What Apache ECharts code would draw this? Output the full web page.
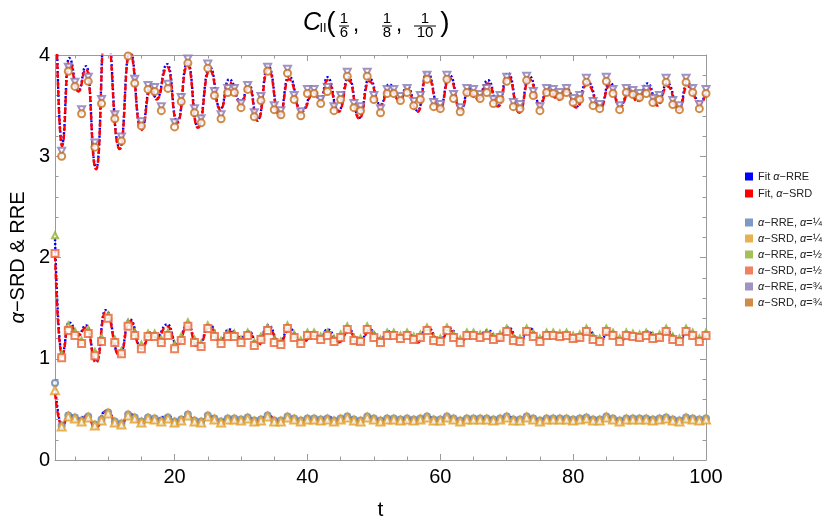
<!DOCTYPE html>
<html>
<head>
<meta charset="utf-8">
<script src="https://cdn.jsdelivr.net/npm/echarts@6/dist/echarts.min.js"></script>
<style>
  html, body { margin: 0; padding: 0; background: #fff; }
  #chart { width: 830px; height: 526px; }
</style>
</head>
<body>
<div id="chart"></div>
<script>
// sample times of the markers
const tSteps = [
  2, 3, 4, 5, 6, 7, 8, 9, 10, 11,
  12, 13, 14, 15, 16, 17, 18, 19, 20, 21,
  22, 23, 24, 25, 26, 27, 28, 29, 30, 31,
  32, 33, 34, 35, 36, 37, 38, 39, 40, 41,
  42, 43, 44, 45, 46, 47, 48, 49, 50, 51,
  52, 53, 54, 55, 56, 57, 58, 59, 60, 61,
  62, 63, 64, 65, 66, 67, 68, 69, 70, 71,
  72, 73, 74, 75, 76, 77, 78, 79, 80, 81,
  82, 83, 84, 85, 86, 87, 88, 89, 90, 91,
  92, 93, 94, 95, 96, 97, 98, 99, 100
]

// alpha = 1/4
const rreQuarter = [
  0.76, 0.34, 0.44, 0.42, 0.39, 0.43, 0.35, 0.40, 0.47, 0.38,
  0.36, 0.45, 0.42, 0.38, 0.42, 0.41, 0.39, 0.42, 0.38, 0.40,
  0.45, 0.39, 0.38, 0.44, 0.41, 0.38, 0.41, 0.41, 0.40, 0.42,
  0.39, 0.40, 0.44, 0.39, 0.39, 0.43, 0.41, 0.39, 0.41, 0.41,
  0.40, 0.41, 0.39, 0.41, 0.43, 0.40, 0.39, 0.43, 0.41, 0.39,
  0.41, 0.41, 0.40, 0.41, 0.40, 0.41, 0.43, 0.40, 0.40, 0.43,
  0.41, 0.39, 0.41, 0.41, 0.41, 0.41, 0.40, 0.41, 0.43, 0.40,
  0.40, 0.43, 0.41, 0.39, 0.41, 0.41, 0.41, 0.41, 0.40, 0.41,
  0.42, 0.40, 0.40, 0.43, 0.41, 0.39, 0.41, 0.41, 0.41, 0.41,
  0.40, 0.41, 0.42, 0.40, 0.39, 0.42, 0.41, 0.40, 0.41
]
const srdQuarter = [
  0.69, 0.33, 0.43, 0.41, 0.38, 0.42, 0.34, 0.39, 0.46, 0.37,
  0.35, 0.44, 0.41, 0.37, 0.41, 0.40, 0.38, 0.41, 0.37, 0.39,
  0.44, 0.38, 0.37, 0.43, 0.40, 0.37, 0.40, 0.40, 0.39, 0.41,
  0.38, 0.39, 0.43, 0.38, 0.38, 0.42, 0.40, 0.38, 0.40, 0.40,
  0.39, 0.40, 0.38, 0.40, 0.42, 0.39, 0.38, 0.42, 0.40, 0.38,
  0.40, 0.40, 0.39, 0.40, 0.39, 0.40, 0.42, 0.39, 0.39, 0.42,
  0.40, 0.38, 0.40, 0.40, 0.40, 0.40, 0.39, 0.40, 0.42, 0.39,
  0.39, 0.42, 0.40, 0.38, 0.40, 0.40, 0.40, 0.40, 0.39, 0.40,
  0.41, 0.39, 0.39, 0.42, 0.40, 0.38, 0.40, 0.40, 0.40, 0.40,
  0.39, 0.40, 0.41, 0.39, 0.38, 0.41, 0.40, 0.39, 0.40
]

// alpha = 1/2
const rreHalf = [
  2.22, 1.05, 1.33, 1.27, 1.18, 1.29, 1.07, 1.21, 1.43, 1.19,
  1.08, 1.36, 1.26, 1.14, 1.25, 1.25, 1.19, 1.26, 1.14, 1.22,
  1.36, 1.19, 1.15, 1.33, 1.25, 1.18, 1.25, 1.25, 1.19, 1.26,
  1.16, 1.22, 1.31, 1.19, 1.17, 1.33, 1.24, 1.18, 1.26, 1.26,
  1.22, 1.26, 1.20, 1.24, 1.32, 1.21, 1.20, 1.32, 1.24, 1.19,
  1.26, 1.26, 1.23, 1.26, 1.22, 1.24, 1.31, 1.21, 1.20, 1.31,
  1.24, 1.19, 1.26, 1.26, 1.24, 1.26, 1.22, 1.24, 1.30, 1.21,
  1.20, 1.30, 1.25, 1.20, 1.26, 1.26, 1.25, 1.26, 1.23, 1.24,
  1.30, 1.22, 1.20, 1.30, 1.26, 1.20, 1.26, 1.25, 1.24, 1.26,
  1.23, 1.24, 1.30, 1.22, 1.20, 1.30, 1.26, 1.20, 1.26
]
const srdHalf = [
  2.04, 1.01, 1.28, 1.23, 1.15, 1.25, 1.03, 1.17, 1.40, 1.16,
  1.05, 1.32, 1.23, 1.10, 1.22, 1.22, 1.16, 1.23, 1.10, 1.18,
  1.32, 1.16, 1.12, 1.30, 1.22, 1.15, 1.22, 1.22, 1.16, 1.23,
  1.13, 1.19, 1.28, 1.16, 1.14, 1.30, 1.21, 1.15, 1.23, 1.23,
  1.19, 1.23, 1.17, 1.21, 1.29, 1.18, 1.17, 1.29, 1.21, 1.16,
  1.23, 1.23, 1.20, 1.23, 1.19, 1.21, 1.28, 1.18, 1.17, 1.28,
  1.21, 1.16, 1.23, 1.23, 1.21, 1.23, 1.19, 1.21, 1.27, 1.18,
  1.17, 1.27, 1.22, 1.17, 1.23, 1.23, 1.22, 1.23, 1.20, 1.21,
  1.27, 1.19, 1.17, 1.27, 1.23, 1.17, 1.23, 1.22, 1.21, 1.23,
  1.20, 1.21, 1.27, 1.19, 1.17, 1.27, 1.23, 1.17, 1.23
]

// alpha = 3/4
const rreThreeQ = [
  4.65, 3.05, 3.88, 3.73, 3.46, 3.78, 3.13, 3.56, 4.15, 3.41,
  3.19, 4.03, 3.76, 3.34, 3.70, 3.68, 3.49, 3.71, 3.33, 3.58,
  3.96, 3.47, 3.37, 3.91, 3.64, 3.41, 3.67, 3.67, 3.52, 3.70,
  3.43, 3.59, 3.88, 3.50, 3.45, 3.86, 3.60, 3.44, 3.66, 3.66,
  3.56, 3.68, 3.49, 3.60, 3.83, 3.52, 3.49, 3.83, 3.60, 3.47,
  3.66, 3.66, 3.59, 3.67, 3.54, 3.60, 3.80, 3.53, 3.51, 3.80,
  3.61, 3.48, 3.67, 3.66, 3.61, 3.67, 3.56, 3.60, 3.78, 3.53,
  3.51, 3.79, 3.64, 3.49, 3.67, 3.66, 3.63, 3.67, 3.57, 3.60,
  3.77, 3.54, 3.51, 3.78, 3.66, 3.50, 3.67, 3.65, 3.62, 3.66,
  3.57, 3.60, 3.77, 3.55, 3.50, 3.77, 3.67, 3.51, 3.66
]
const srdThreeQ = [
  4.60, 3.00, 3.84, 3.69, 3.42, 3.74, 3.09, 3.52, 4.10, 3.37,
  3.15, 3.99, 3.72, 3.30, 3.66, 3.64, 3.45, 3.67, 3.29, 3.54,
  3.92, 3.43, 3.33, 3.87, 3.60, 3.37, 3.63, 3.63, 3.48, 3.66,
  3.39, 3.55, 3.84, 3.46, 3.41, 3.82, 3.56, 3.40, 3.62, 3.62,
  3.52, 3.64, 3.45, 3.56, 3.79, 3.48, 3.45, 3.79, 3.56, 3.43,
  3.62, 3.62, 3.55, 3.63, 3.50, 3.56, 3.76, 3.49, 3.47, 3.76,
  3.57, 3.44, 3.63, 3.62, 3.57, 3.63, 3.52, 3.56, 3.74, 3.49,
  3.47, 3.75, 3.60, 3.45, 3.63, 3.62, 3.59, 3.63, 3.53, 3.56,
  3.73, 3.50, 3.47, 3.74, 3.62, 3.46, 3.63, 3.61, 3.58, 3.62,
  3.53, 3.56, 3.73, 3.51, 3.46, 3.73, 3.63, 3.47, 3.62
]

// fitted curves, read at their turning points
const fitT = [
  2, 3.05, 4.1, 5.5, 6.7, 8.2, 9.6, 11.75, 13.25, 15,
  16.4, 17.3, 18.9, 20.4, 21.95, 23.5, 25.3, 26.9, 28.2, 30,
  31.2, 32.5, 34.1, 35.8, 37.2, 39.1, 41, 42, 43, 44.7,
  46.2, 47.8, 49.3, 51, 52.3, 53.9, 55, 56.6, 58, 59.9,
  61.4, 63.1, 64.3, 65.6, 67.2, 68.7, 70.2, 71.9, 73.4, 75,
  76.2, 77.8, 79, 80.5, 82.1, 84.1, 85.5, 87.1, 88.5, 89.7,
  91.2, 92.7, 94.2, 95.9, 97.2, 99.2, 100
]
const fitRreThreeQ = [
  4.95, 3.12, 3.97, 3.65, 3.89, 2.88, 4.35, 3.08, 4.05, 3.27,
  3.69, 3.57, 3.91, 3.34, 3.93, 3.29, 3.88, 3.47, 3.76, 3.54,
  3.71, 3.36, 3.89, 3.41, 3.79, 3.45, 3.65, 3.56, 3.78, 3.45,
  3.78, 3.38, 3.77, 3.51, 3.71, 3.56, 3.69, 3.45, 3.83, 3.47,
  3.80, 3.46, 3.67, 3.57, 3.75, 3.50, 3.82, 3.44, 3.79, 3.52,
  3.68, 3.57, 3.67, 3.49, 3.74, 3.49, 3.73, 3.50, 3.67, 3.55,
  3.72, 3.51, 3.72, 3.47, 3.72, 3.53, 3.67
]
const fitSrdThreeQ = [
  4.90, 3.10, 3.93, 3.64, 3.86, 2.87, 4.30, 3.07, 4.02, 3.26,
  3.66, 3.56, 3.88, 3.33, 3.90, 3.28, 3.85, 3.46, 3.73, 3.53,
  3.68, 3.35, 3.86, 3.40, 3.76, 3.44, 3.62, 3.55, 3.75, 3.44,
  3.75, 3.37, 3.74, 3.50, 3.68, 3.55, 3.66, 3.44, 3.80, 3.46,
  3.77, 3.45, 3.64, 3.56, 3.72, 3.49, 3.79, 3.43, 3.76, 3.51,
  3.65, 3.56, 3.64, 3.48, 3.71, 3.48, 3.70, 3.49, 3.64, 3.54,
  3.69, 3.50, 3.69, 3.46, 3.69, 3.52, 3.64
]
const fitRreHalf = [
  2.18, 1.05, 1.36, 1.24, 1.33, 0.97, 1.48, 1.04, 1.39, 1.11,
  1.26, 1.22, 1.34, 1.14, 1.34, 1.12, 1.33, 1.18, 1.29, 1.21,
  1.27, 1.14, 1.33, 1.16, 1.30, 1.17, 1.25, 1.21, 1.29, 1.17,
  1.29, 1.15, 1.29, 1.20, 1.27, 1.21, 1.26, 1.17, 1.31, 1.18,
  1.30, 1.18, 1.25, 1.22, 1.28, 1.19, 1.31, 1.17, 1.30, 1.20,
  1.26, 1.22, 1.25, 1.19, 1.28, 1.19, 1.28, 1.19, 1.25, 1.21,
  1.27, 1.20, 1.27, 1.18, 1.27, 1.20, 1.25
]
const fitSrdHalf = [
  2.02, 1.04, 1.34, 1.23, 1.31, 0.96, 1.46, 1.03, 1.37, 1.10,
  1.24, 1.21, 1.32, 1.13, 1.32, 1.11, 1.31, 1.17, 1.27, 1.20,
  1.25, 1.13, 1.31, 1.15, 1.28, 1.16, 1.23, 1.20, 1.27, 1.16,
  1.27, 1.14, 1.27, 1.19, 1.25, 1.20, 1.24, 1.16, 1.29, 1.17,
  1.28, 1.17, 1.23, 1.21, 1.26, 1.18, 1.29, 1.16, 1.28, 1.19,
  1.24, 1.21, 1.23, 1.18, 1.26, 1.18, 1.26, 1.18, 1.23, 1.20,
  1.25, 1.19, 1.25, 1.17, 1.25, 1.19, 1.23
]
const fitRreQuarter = [
  0.74, 0.345, 0.445, 0.405, 0.435, 0.325, 0.485, 0.345, 0.455, 0.365,
  0.415, 0.405, 0.435, 0.375, 0.435, 0.365, 0.435, 0.385, 0.415, 0.395,
  0.415, 0.375, 0.435, 0.385, 0.425, 0.385, 0.405, 0.395, 0.425, 0.385,
  0.425, 0.375, 0.425, 0.395, 0.415, 0.395, 0.415, 0.385, 0.425, 0.385,
  0.425, 0.385, 0.405, 0.405, 0.415, 0.395, 0.425, 0.385, 0.425, 0.395,
  0.415, 0.405, 0.405, 0.395, 0.415, 0.395, 0.415, 0.395, 0.405, 0.395,
  0.415, 0.395, 0.415, 0.385, 0.415, 0.395, 0.405
]
const fitSrdQuarter = [
  0.66, 0.34, 0.44, 0.40, 0.43, 0.32, 0.48, 0.34, 0.45, 0.36,
  0.41, 0.40, 0.43, 0.37, 0.43, 0.36, 0.43, 0.38, 0.41, 0.39,
  0.41, 0.37, 0.43, 0.38, 0.42, 0.38, 0.40, 0.39, 0.42, 0.38,
  0.42, 0.37, 0.42, 0.39, 0.41, 0.39, 0.41, 0.38, 0.42, 0.38,
  0.42, 0.38, 0.40, 0.40, 0.41, 0.39, 0.42, 0.38, 0.42, 0.39,
  0.41, 0.40, 0.40, 0.39, 0.41, 0.39, 0.41, 0.39, 0.40, 0.39,
  0.41, 0.39, 0.41, 0.38, 0.41, 0.39, 0.40
]

// axis ticks
const xMajorTicks = [20, 40, 60, 80, 100]
const xMinorTicks = [5, 10, 15, 25, 30, 35, 45, 50, 55, 65, 70, 75, 85, 90, 95]

const FONT = '"Liberation Sans", Arial, sans-serif'
const FRAME = '#9a9a9a'

const fitNames = ['Fit α−RRE', 'Fit, α−SRD']
const markNames = [
  'α−RRE, α=¼', 'α−SRD, α=¼',
  'α−RRE, α=½', 'α−SRD, α=½',
  'α−RRE, α=¾', 'α−SRD, α=¾'
]
const richNames = {
  'Fit α−RRE': 'Fit {i|α}−RRE',
  'Fit, α−SRD': 'Fit, {i|α}−SRD',
  'α−RRE, α=¼': '{i|α}−RRE, {i|α}=¼',
  'α−SRD, α=¼': '{i|α}−SRD, {i|α}=¼',
  'α−RRE, α=½': '{i|α}−RRE, {i|α}=½',
  'α−SRD, α=½': '{i|α}−SRD, {i|α}=½',
  'α−RRE, α=¾': '{i|α}−RRE, {i|α}=¾',
  'α−SRD, α=¾': '{i|α}−SRD, {i|α}=¾'
}

const pairs = (xs, ys) => ys.map((v, i) => [xs[i], v])

const chart = echarts.init(document.getElementById('chart'))

// 拟合曲线
const fitLine = (name, values, color, dash, z) => ({
  name,
  type: 'line',
  data: pairs(fitT, values),
  smooth: 0.55,
  smoothMonotone: 'x',
  showSymbol: false,
  silent: true,
  z,
  itemStyle: { color },
  lineStyle: { color, width: 2.4, type: dash }
})

// 数据点
const markSeries = (name, values, color, symbol, size, rotate, z) => ({
  name,
  type: 'scatter',
  data: pairs(tSteps, values),
  symbol,
  symbolSize: size,
  symbolRotate: rotate,
  silent: true,
  z,
  itemStyle: { color, borderColor: color, borderWidth: 1.5 }
})

const blue = '#0000ff'
const red = '#ff0000'

const series = [
  fitLine(fitNames[0], fitRreQuarter, blue, [2, 2], 2),
  fitLine(fitNames[1], fitSrdQuarter, red, [6, 3], 3),
  fitLine(fitNames[0], fitRreHalf, blue, [2, 2], 2),
  fitLine(fitNames[1], fitSrdHalf, red, [6, 3], 3),
  fitLine(fitNames[0], fitRreThreeQ, blue, [2, 2], 2),
  fitLine(fitNames[1], fitSrdThreeQ, red, [6, 3], 3),
  markSeries(markNames[0], rreQuarter, '#5e81b5', 'emptyCircle', 6, 0, 4),
  markSeries(markNames[1], srdQuarter, '#e19c24', 'emptyTriangle', 8, 0, 5),
  markSeries(markNames[2], rreHalf, '#8fb032', 'emptyTriangle', 6, 0, 6),
  markSeries(markNames[3], srdHalf, '#eb6235', 'emptyRect', 7, 0, 7),
  markSeries(markNames[4], rreThreeQ, '#8778b3', 'emptyTriangle', 7, 180, 8),
  markSeries(markNames[5], srdThreeQ, '#c56e1a', 'emptyCircle', 7, 0, 9)
]

const xBase = (position, ticks, len, showLine) => ({
  type: 'value',
  min: 2,
  max: 100,
  position,
  axisLine: { show: showLine, lineStyle: { color: FRAME, width: 1 } },
  axisTick: { show: true, inside: true, length: len, customValues: ticks, lineStyle: { color: FRAME } },
  axisLabel: { show: false },
  splitLine: { show: false }
})

const yBase = (position, labels) => ({
  type: 'value',
  min: 0,
  max: 4,
  interval: 1,
  position,
  axisLine: { show: true, lineStyle: { color: FRAME, width: 1 } },
  axisTick: { show: true, inside: true, length: 6, lineStyle: { color: FRAME } },
  minorTick: { show: true, splitNumber: 5, length: 3.5, lineStyle: { color: FRAME } },
  axisLabel: { show: labels, fontSize: 20, fontFamily: FONT, color: '#000', margin: 5 },
  splitLine: { show: false }
})

const xMain = xBase('bottom', xMajorTicks, 6, true)
xMain.axisLabel = { show: true, customValues: xMajorTicks, fontSize: 20, fontFamily: FONT, color: '#000', margin: 7 }
xMain.name = 't'
xMain.nameLocation = 'middle'
xMain.nameGap = 40
xMain.nameTextStyle = { fontSize: 21, fontFamily: FONT, color: '#000' }

const yMain = yBase('left', true)
yMain.name = '{i|α}−SRD & RRE'
yMain.nameLocation = 'middle'
yMain.nameGap = 25
yMain.nameTextStyle = {
  fontSize: 20, fontFamily: FONT, color: '#000',
  rich: { i: { fontStyle: 'italic', fontSize: 20, fontFamily: FONT, color: '#000' } }
}

const legendText = {
  fontSize: 11, fontFamily: FONT, color: '#222', lineHeight: 13,
  rich: { i: { fontStyle: 'italic', fontSize: 11, fontFamily: FONT, color: '#222' } }
}

// title pieces: C_II(1/6, 1/8, 1/10)
const titleFont = (size, italic) => (italic ? 'italic ' : '') + size + 'px ' + FONT
const txt = (text, x, y, size, italic) => ({
  type: 'text',
  silent: true,
  style: { text, x, y, font: titleFont(size, italic), fill: '#000', align: 'center', verticalAlign: 'middle' }
})
const bar = (x1, x2) => ({
  type: 'line',
  silent: true,
  shape: { x1, y1: 26, x2, y2: 26 },
  style: { stroke: '#000', lineWidth: 1 }
})

const option = {
  animation: false,
  backgroundColor: '#fff',
  grid: { left: 49, right: 124, top: 55, bottom: 64, containLabel: false },
  xAxis: [
    xMain,
    xBase('bottom', xMinorTicks, 3.5, false),
    xBase('top', xMajorTicks, 6, true),
    xBase('top', xMinorTicks, 3.5, false)
  ],
  yAxis: [yMain, yBase('right', false)],
  legend: [
    {
      data: fitNames,
      orient: 'vertical',
      left: 740,
      top: 165,
      icon: 'rect',
      itemWidth: 8,
      itemHeight: 8,
      itemGap: 4,
      selectedMode: false,
      itemStyle: { borderWidth: 0 },
      textStyle: legendText,
      formatter: (n) => richNames[n]
    },
    {
      data: markNames,
      orient: 'vertical',
      left: 740,
      top: 211,
      icon: 'rect',
      itemWidth: 8,
      itemHeight: 8,
      itemGap: 3,
      selectedMode: false,
      itemStyle: { borderWidth: 0 },
      textStyle: legendText,
      formatter: (n) => richNames[n]
    }
  ],
  graphic: [
    txt('C', 312, 23.5, 25, true),
    txt('II', 323, 28.5, 13, false),
    txt('(', 331, 23, 28, false),
    txt('1', 344, 18.5, 15, false),
    bar(339, 349),
    txt('6', 344, 32.8, 15, false),
    txt(',', 356, 25.3, 22, false),
    txt('1', 387, 18.5, 15, false),
    bar(382, 392),
    txt('8', 387, 32.8, 15, false),
    txt(',', 399, 25.3, 22, false),
    txt('1', 425, 18.5, 15, false),
    bar(414, 436),
    txt('10', 425, 32.8, 15, false),
    txt(')', 445, 23, 28, false)
  ],
  series
}

chart.setOption(option)
</script>
</body>
</html>
